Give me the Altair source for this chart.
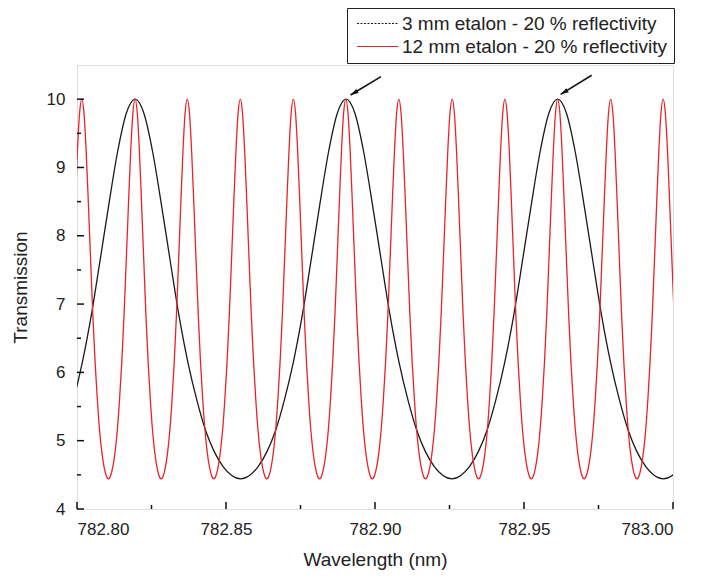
import altair as alt
import pandas as pd

# ---- data ----
S3 = "3 mm etalon - 20 % reflectivity"
S12 = "12 mm etalon - 20 % reflectivity"

# transmission peak positions (nm); the first/last lie just outside the frame
black_peaks = [782.7487, 782.8195, 782.8903, 782.9613, 783.0322]
red_peaks = [782.7839, 782.8016, 782.8195, 782.8370, 782.8548, 782.8726,
             782.8902, 782.9080, 782.9259, 782.9436, 782.9613, 782.9791,
             782.9967, 783.0144]

# half-period line shape (fraction of peak spacing -> transmission)
profile_frac = [0.0, 0.042, 0.083, 0.125, 0.167, 0.208, 0.25,
                0.292, 0.333, 0.375, 0.417, 0.458, 0.5]
profile_T = [10.0, 9.79, 9.23, 8.45, 7.62, 6.83, 6.15,
             5.60, 5.16, 4.84, 4.62, 4.49, 4.44]

# axis ticks
x_major = [782.80, 782.85, 782.90, 782.95, 783.00]
x_minor = [782.825, 782.875, 782.925, 782.975]
y_major = [4, 5, 6, 7, 8, 9, 10]
y_minor = [4.5, 5.5, 6.5, 7.5, 8.5, 9.5]

# arrows (tail -> tip)
arrow_tail_x = [782.9020, 782.9727]
arrow_tail_y = [10.33, 10.35]
arrow_tip_x = [782.8918, 782.9623]
arrow_tip_y = [10.06, 10.07]


def build(peaks, name):
    rows = []
    for i in range(len(peaks) - 1):
        a, b = peaks[i], peaks[i + 1]
        d = b - a
        start = 0 if i == 0 else 1
        for f, t in list(zip(profile_frac, profile_T))[start:]:
            rows.append({"wl": a + f * d, "T": t, "series": name})
        for f, t in list(zip(profile_frac, profile_T))[-2::-1]:
            rows.append({"wl": b - f * d, "T": t, "series": name})
    return rows


curves = pd.DataFrame(build(black_peaks, S3) + build(red_peaks, S12))

W, H = 596, 444
FONT = "Liberation Sans"
TXT = "#222222"

xscale = alt.Scale(domain=[782.80, 783.00], nice=False, zero=False)
yscale = alt.Scale(domain=[4, 10.5], nice=False, zero=False)
cscale = alt.Scale(domain=[S3, S12], range=["#1a1a1a", "#e8242a"])
dscale = alt.Scale(domain=[S3, S12], range=[[2, 1.5], [1, 0]])

xaxis = alt.Axis(values=x_major, format=".2f", ticks=False, tickSize=0, domain=False,
                 grid=False, labelFontSize=17, labelFont=FONT, labelColor=TXT,
                 labelPadding=12, title="Wavelength (nm)", titleFontSize=19,
                 titleFont=FONT, titleFontWeight="normal", titleColor=TXT,
                 titlePadding=13)
yaxis = alt.Axis(values=y_major, format="d", ticks=False, tickSize=0, domain=False,
                 grid=False, labelFontSize=17, labelFont=FONT, labelColor=TXT,
                 labelPadding=12, title="Transmission", titleFontSize=19,
                 titleFont=FONT, titleFontWeight="normal", titleColor=TXT,
                 titlePadding=16)

base = alt.Chart(curves)

legend = alt.Legend(title=None, orient="none", legendX=270, legendY=-57,
                    strokeColor="#222222", fillColor="white", padding=6,
                    symbolType="M-4,0H4", symbolSize=105, symbolStrokeWidth=1.2,
                    symbolOpacity=1, symbolOffset=15,
                    labelFontSize=19, labelFont=FONT, labelColor=TXT,
                    labelLimit=500, rowPadding=3, labelOffset=15)

# empty layer that only carries the legend (dotted / solid samples)
legend_layer = base.transform_filter("false").mark_line().encode(
    x=alt.X("wl:Q", scale=xscale, axis=xaxis),
    y=alt.Y("T:Q", scale=yscale, axis=yaxis),
    color=alt.Color("series:N", scale=cscale, legend=legend),
    strokeDash=alt.StrokeDash("series:N", scale=dscale, legend=legend),
)

lines = base.mark_line(clip=True, strokeWidth=1.3, interpolate="monotone").encode(
    x=alt.X("wl:Q", scale=xscale, axis=xaxis),
    y=alt.Y("T:Q", scale=yscale, axis=yaxis),
    color=alt.Color("series:N", scale=cscale),
    detail="series:N",
    order="wl:Q",
)

xt_major = alt.Chart(pd.DataFrame({"v": x_major})).mark_rule(color="#111", strokeWidth=1.5).encode(
    x=alt.X("v:Q", scale=xscale), y=alt.value(H), y2=alt.value(H - 7))
xt_minor = alt.Chart(pd.DataFrame({"v": x_minor})).mark_rule(color="#111", strokeWidth=1.5).encode(
    x=alt.X("v:Q", scale=xscale), y=alt.value(H), y2=alt.value(H - 4))
yt_major = alt.Chart(pd.DataFrame({"v": y_major})).mark_rule(color="#111", strokeWidth=1.5).encode(
    y=alt.Y("v:Q", scale=yscale), x=alt.value(0), x2=alt.value(7))
yt_minor = alt.Chart(pd.DataFrame({"v": y_minor})).mark_rule(color="#111", strokeWidth=1.5).encode(
    y=alt.Y("v:Q", scale=yscale), x=alt.value(0), x2=alt.value(4))

arrows_df = pd.DataFrame({"x": arrow_tail_x, "y": arrow_tail_y,
                          "x2": arrow_tip_x, "y2": arrow_tip_y})
arrow_lines = alt.Chart(arrows_df).mark_rule(color="#111", strokeWidth=1.6).encode(
    x=alt.X("x:Q", scale=xscale), y=alt.Y("y:Q", scale=yscale),
    x2="x2:Q", y2="y2:Q")
arrow_heads = alt.Chart(arrows_df).mark_point(
    shape="M0,0 L0.6,2 L-0.6,2 Z", filled=True, color="#111", size=64,
    angle=239, opacity=1).encode(
    x=alt.X("x2:Q", scale=xscale), y=alt.Y("y2:Q", scale=yscale))

chart = alt.layer(
    legend_layer, lines, xt_major, xt_minor, yt_major, yt_minor,
    arrow_lines, arrow_heads
).properties(
    width=W, height=H,
    autosize=alt.AutoSizeParams(type="none"),
    padding={"left": 69, "top": 57, "right": 16, "bottom": 62},
).configure_view(
    stroke="#111", strokeWidth=2
).configure(background="white")

chart.save("out.html", embed_options={"renderer": "svg", "actions": False})
